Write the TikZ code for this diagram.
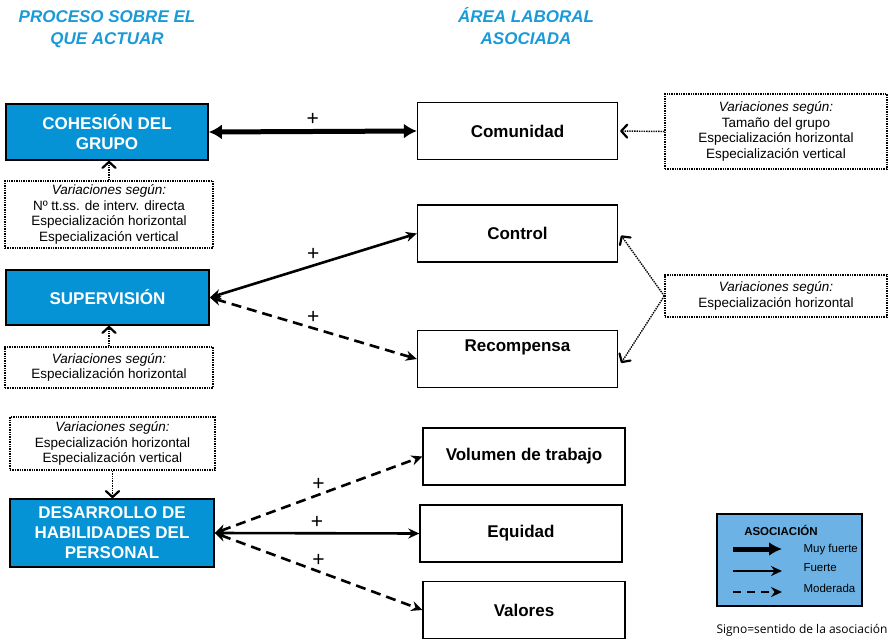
\documentclass[tikz,border=0pt]{standalone}
\usepackage{fontspec}
\setmainfont{Liberation Sans}
\newfontfamily\notefont{Open Sans}
\usepackage{xcolor}
\usetikzlibrary{arrows.meta, positioning, calc}
\definecolor{procblue}{RGB}{5,147,214}
\definecolor{titleblue}{RGB}{26,154,217}
\definecolor{legendblue}{RGB}{108,178,228}
\tikzset{
  procbox/.style={rectangle, draw, line width=1.6pt, fill=procblue, text=white, align=center,
                  font=\fontsize{17}{20}\selectfont\bfseries, inner sep=2pt},
  areabox/.style={rectangle, draw, line width=1.3pt, fill=white, align=center,
                  font=\fontsize{17}{19}\selectfont\bfseries, minimum width=200pt, minimum height=57pt},
  varbox/.style={rectangle, draw, densely dotted, line width=1.4pt, align=center,
                 font=\fontsize{13.5}{15.5}\selectfont, inner sep=1pt},
  titletext/.style={text=titleblue, align=center, font=\fontsize{17}{22}\selectfont\bfseries\itshape},
  muyfuerte/.style={{Latex[length=13pt,width=15pt]}-{Latex[length=13pt,width=15pt]}, line width=5pt},
  fuerte/.style={{Stealth[length=11pt,width=10pt]}-{Stealth[length=11pt,width=10pt]}, line width=2.6pt},
  moderada/.style={fuerte, dash pattern=on 10pt off 6pt},
  influye/.style={-{Straight Barb[length=6pt,width=13pt,line width=2.2pt 0,round]}, densely dotted, line width=1.4pt},
  signo/.style={font=\fontsize{21}{21}\selectfont, midway, above=0pt},
  legtext/.style={anchor=west, font=\fontsize{11.5}{13}\selectfont},
}

\begin{document}
\begin{tikzpicture}[x=1pt, y=-1pt]
  \useasboundingbox (0,0) rectangle (895,642);

  % column titles
  \node (tproc) [titletext] at (107,29) {PROCESO SOBRE EL\\QUE ACTUAR};
  \node (tarea) [titletext] at (526,26) {ÁREA LABORAL\\ASOCIADA};

  % processes
  \node (cohesion) [procbox, minimum width=202pt, minimum height=56pt] at (107,132) {COHESIÓN DEL\\GRUPO};
  \node (supervision) [procbox, minimum width=203pt, minimum height=55pt] at (107.5,297.5) {SUPERVISIÓN};
  \node (desarrollo) [procbox, minimum width=204pt, minimum height=68pt] at (112,533) {DESARROLLO DE\\HABILIDADES DEL\\PERSONAL};

  % work areas
  \node (comunidad) [areabox] at (517.5,131) {Comunidad};
  \node (control) [areabox] at (517.5,233.5) {Control};
  \node (recompensa) [areabox, text depth=27pt] at (517.5,359) {Recompensa};
  \node (volumen) [areabox, minimum width=202pt] at (524,456.5) {Volumen de trabajo};
  \node (equidad) [areabox, minimum width=202pt] at (521,533.5) {Equidad};
  \node (valores) [areabox, minimum width=202pt] at (524,610) {Valores};

  % variations
  \node (varcoh) [varbox, minimum width=208pt, minimum height=67pt] at (109,214.5)
    {\textit{Variaciones según:}\\Nº tt.ss. de interv. directa\\Especialización horizontal\\Especialización vertical};
  \node (varsup) [varbox, minimum width=208pt, minimum height=41pt] at (109,367.5)
    {\textit{Variaciones según:}\\Especialización horizontal};
  \node (vardes) [varbox, minimum width=205pt, minimum height=53pt] at (112.5,443.5)
    {\textit{Variaciones según:}\\Especialización horizontal\\Especialización vertical};
  \node (varcom) [varbox, minimum width=222pt, minimum height=75pt] at (776,131.5)
    {\textit{Variaciones según:}\\Tamaño del grupo\\Especialización horizontal\\Especialización vertical};
  \node (varrec) [varbox, minimum width=222pt, minimum height=42pt] at (776,296)
    {\textit{Variaciones según:}\\Especialización horizontal};

  % associations
  \draw[muyfuerte] (cohesion.east) -- (comunidad.west) node[signo] {+};
  \draw[fuerte] (supervision.east) -- (control.west) node[signo] {+};
  \draw[moderada] (supervision.east) -- (recompensa.west) node[signo] {+};
  \draw[moderada] (desarrollo.east) -- (volumen.west) node[signo] {+};
  \draw[fuerte] (desarrollo.east) -- (equidad.west) node[signo] {+};
  \draw[moderada] (desarrollo.east) -- (valores.west) node[signo] {+};

  \draw[influye] (varcoh.north) -- (varcoh.north |- cohesion.south);
  \draw[influye] (varsup.north) -- (varsup.north |- supervision.south);
  \draw[influye] (vardes.south) -- (vardes.south |- desarrollo.north);
  \draw[influye] (varcom.west) -- ([xshift=2pt]comunidad.east);
  \draw[influye] (varrec.west) -- ([xshift=3pt,yshift=-2pt]control.east);
  \draw[influye] (varrec.west) -- ([xshift=3pt,yshift=-4pt]recompensa.east);

  % legend
  \node (leyenda) [rectangle, draw, line width=1.6pt, fill=legendblue, minimum width=145pt, minimum height=92pt] at (789.5,560) {};
  \node (legtit) [font=\fontsize{11.5}{13}\selectfont\bfseries] at (781,530) {ASOCIACIÓN};
  \coordinate (lgA) at (733,549); \coordinate (lgB) at (782,549);
  \coordinate (lgC) at (733,571); \coordinate (lgD) at (782,571);
  \coordinate (lgE) at (733,592); \coordinate (lgF) at (782,592);
  \draw[-{Latex[length=13pt,width=14pt]}, line width=5pt] (lgA) -- (lgB);
  \draw[-{Stealth[length=11pt,width=10pt]}, line width=2.6pt] (lgC) -- (lgD);
  \draw[-{Stealth[length=11pt,width=10pt]}, line width=2.6pt, dash pattern=on 8pt off 6pt] (lgE) -- (lgF);
  \node (lgmuy) [legtext] at (800,550) {Muy fuerte};
  \node (lgfue) [legtext] at (800,568) {Fuerte};
  \node (lgmod) [legtext] at (800,588) {Moderada};
  \node (nota) [font=\notefont\fontsize{12}{14}\selectfont] at (802,630) {Signo=sentido de la asociación};
\end{tikzpicture}
\end{document}
